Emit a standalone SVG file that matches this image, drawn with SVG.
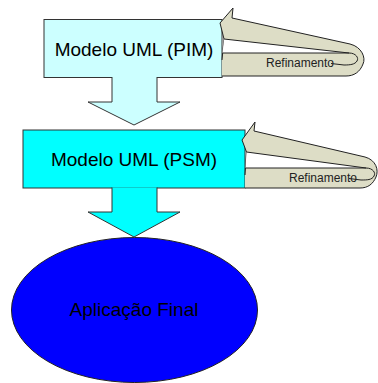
<svg xmlns="http://www.w3.org/2000/svg" width="378" height="383" viewBox="0 0 378 383">
  <style>
    .box { stroke: #333; stroke-width: 1; }
    .pim { fill: #CCFFFF; }
    .psm { fill: #00FFFF; }
    .app { fill: #0000FF; stroke: #222; stroke-width: 1; }
    .flow { stroke: #333; stroke-width: 1; stroke-linejoin: miter; }
    .loop { fill: #DDDDC6; stroke: #222; stroke-width: 1; stroke-linejoin: round; }
    .hole { fill: #FFFFFF; stroke: none; }
    .line { fill: none; stroke: #222; stroke-width: 1; }
    .big { font-family: "Liberation Sans", Arial, sans-serif; font-size: 19px; fill: #000; text-anchor: middle; }
    .small { font-family: "Liberation Sans", Arial, sans-serif; font-size: 12px; fill: #222; }
  </style>

  <!-- platform independent model -->
  <g id="node-pim">
    <rect class="box pim" x="44" y="19.5" width="178" height="58"/>
    <text class="big" x="134" y="56">Modelo UML (PIM)</text>
  </g>

  <!-- platform specific model -->
  <g id="node-psm">
    <rect class="box psm" x="23" y="130" width="222" height="58"/>
    <text class="big" x="134" y="166">Modelo UML (PSM)</text>
  </g>

  <!-- final application -->
  <g id="node-app">
    <ellipse class="app" cx="134.5" cy="310" rx="123" ry="72.5"/>
    <text class="big" x="134" y="316">Aplicação Final</text>
  </g>

  <g id="connectors">
    <!-- block arrows: open paths so the top edge merges into the box -->
    <path class="flow pim" d="M112,77 L112,102 L88,102 L134,125 L180,102 L157,102 L157,77"/>
    <path class="flow psm" d="M112,187.5 L112,212 L88,212 L134,237 L180,212 L157,212 L157,187.5"/>

    <!-- refinement loop on PIM -->
    <g id="refine-pim">
      <path class="loop" d="M222,60 L224,39 L220,23 L233,8 L232,18 L350,44 C362,47 366,58 363,64 C360,72 354,76 346,76 L222,76"/>
      <path class="hole" d="M224,39 L349,53 L222.5,53"/>
      <path class="line" d="M224,39 L349,53 M222.5,53 L349,53"/>
      <text class="small" x="266" y="67">Refinamento</text>
      <path class="line" d="M349,53 C356,53 359,58 357,61 C355,64.5 350,65 344,65 L331,63.5"/>
    </g>

    <!-- refinement loop on PSM -->
    <g id="refine-psm">
      <path class="loop" d="M245,175 L246.5,152 L242,140 L255,122 L254,131 L365,157 C376,160 379,170 376,177 C373,184 368,188 360,188 L245,188"/>
      <path class="hole" d="M246.5,152 L366,168 L245.5,168"/>
      <path class="line" d="M246.5,152 L366,168 M245.5,168 L366,168"/>
      <text class="small" x="289" y="182">Refinamento</text>
      <path class="line" d="M366,168 C373,168 376,173 374,176 C372,180 367,180 361,180 L349,178.5"/>
    </g>
  </g>
</svg>
